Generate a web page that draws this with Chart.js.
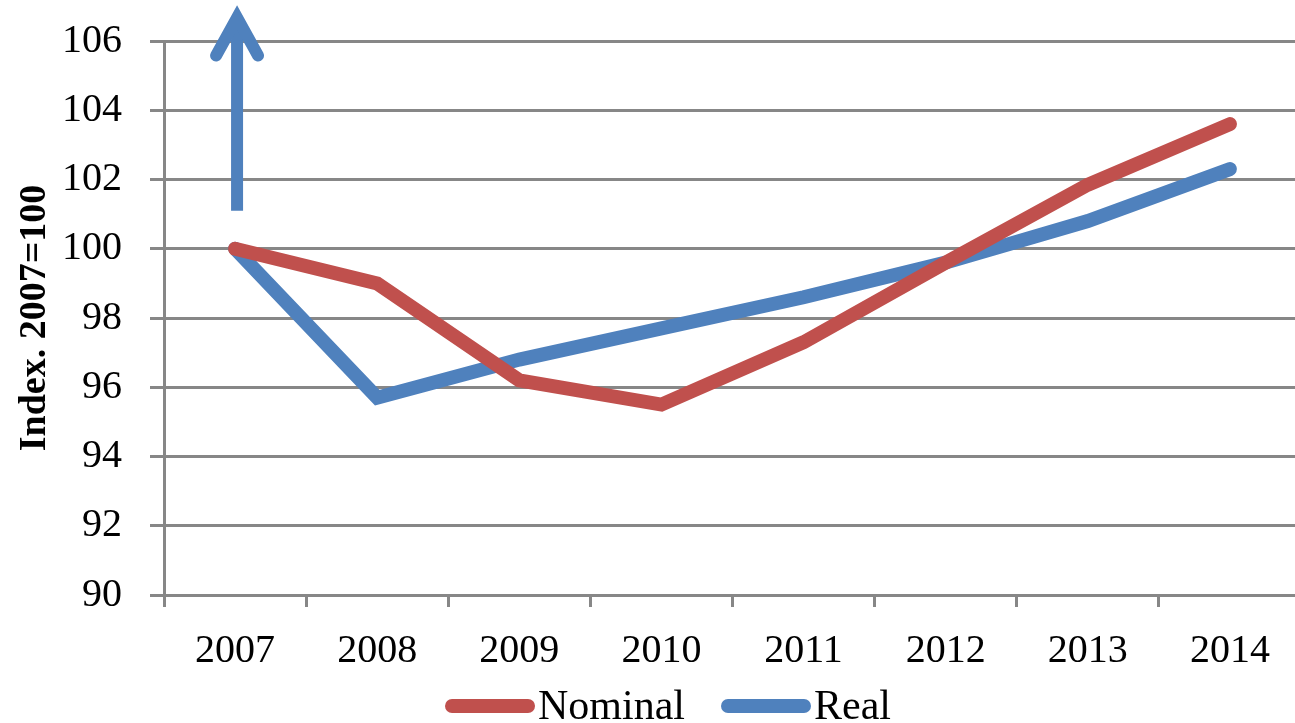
<!DOCTYPE html>
<html>
<head>
<meta charset="utf-8">
<title>Nominal and real index</title>
<script src="https://cdn.jsdelivr.net/npm/chart.js@4.4.1/dist/chart.umd.min.js"></script>
<style>
  html, body { margin: 0; padding: 0; background: #fff; overflow: hidden; }
  #wrap { width: 1310px; height: 723px; position: relative; }
</style>
</head>
<body>
<div id="wrap"><canvas id="indexChart"></canvas></div>
<script>
const years = ['2007', '2008', '2009', '2010', '2011', '2012', '2013', '2014'];
const nominal = [100, 99.0, 96.2, 95.5, 97.3, 99.6, 101.85, 103.6];
const real = [100, 95.7, 96.8, 97.7, 98.6, 99.6, 100.8, 102.3];
const yTicks = [90, 92, 94, 96, 98, 100, 102, 104, 106];
// upward arrow above the 2007 point: [category index, from value, to value]
const arrow = [0, 101.1, 106.85];

const RED = '#C0504D';
const BLUE = '#4F81BD';
const GRID = '#878787';
const FONT = "'Liberation Serif', 'Times New Roman', serif";

const arrowPlugin = {
    id: 'upArrow',
    afterDatasetsDraw(chart) {
        const { ctx, scales } = chart;
        const x = scales.x.getPixelForValue(arrow[0]) + 2;
        const y0 = scales.y.getPixelForValue(arrow[1]);
        const y1 = scales.y.getPixelForValue(arrow[2]);
        ctx.save();
        ctx.strokeStyle = BLUE;
        ctx.lineWidth = 12;
        ctx.lineCap = 'butt';
        ctx.beginPath();
        ctx.moveTo(x, y0);
        ctx.lineTo(x, y1 + 6);
        ctx.stroke();
        ctx.lineCap = 'round';
        ctx.lineJoin = 'miter';
        ctx.beginPath();
        ctx.moveTo(x - 21, y1 + 44);
        ctx.lineTo(x, y1 + 6);
        ctx.lineTo(x + 21, y1 + 44);
        ctx.stroke();
        ctx.restore();
    }
};

// legend: thick rounded line sample followed by the series name
const legendPlugin = {
    id: 'lineLegend',
    afterDraw(chart) {
        const { ctx } = chart;
        const sample = 90, gap = 3, spacing = 36, cy = 706;
        ctx.save();
        ctx.font = "42px " + FONT;
        ctx.textBaseline = 'middle';
        const items = chart.data.datasets.map(d => ({ label: d.label, color: d.borderColor, w: ctx.measureText(d.label).width }));
        const total = items.reduce((s, it) => s + sample + gap + it.w, 0) + spacing * (items.length - 1);
        let x = 668 - total / 2;
        items.forEach(it => {
            ctx.strokeStyle = it.color;
            ctx.lineWidth = 14;
            ctx.lineCap = 'round';
            ctx.beginPath();
            ctx.moveTo(x + 7, cy);
            ctx.lineTo(x + sample - 7, cy);
            ctx.stroke();
            ctx.fillStyle = '#000';
            ctx.fillText(it.label, x + sample + gap, cy + 2);
            x += sample + gap + it.w + spacing;
        });
        ctx.restore();
    }
};

const lineStyle = {
    borderWidth: 14,
    borderCapStyle: 'round',
    borderJoinStyle: 'miter',
    pointRadius: 0,
    pointHoverRadius: 0,
    tension: 0,
    fill: false,
};

new Chart(document.getElementById('indexChart').getContext('2d'), {
    type: 'line',
    data: {
        labels: years,
        datasets: [
            { label: 'Nominal', data: nominal, borderColor: RED, backgroundColor: RED, ...lineStyle },
            { label: 'Real', data: real, borderColor: BLUE, backgroundColor: BLUE, ...lineStyle },
        ],
    },
    options: {
        responsive: true,
        maintainAspectRatio: false,
        animation: false,
        layout: { padding: { left: 12, right: 9, top: 41, bottom: 54 } },
        plugins: {
            legend: { display: false },
            tooltip: { enabled: false },
        },
        scales: {
            x: {
                offset: true,
                afterFit: axis => { axis.height = 74; },
                grid: { offset: true, drawOnChartArea: false, color: GRID, lineWidth: 3, tickLength: 12 },
                border: { color: GRID, width: 3 },
                ticks: { color: '#000', padding: 20, font: { family: FONT, size: 40 }, maxRotation: 0 },
            },
            y: {
                min: 90,
                max: 106,
                afterBuildTicks: axis => { axis.ticks = yTicks.map(v => ({ value: v })); },
                afterFit: axis => {
                    axis.width = 152;
                    axis.paddingTop = 0;
                    axis.paddingBottom = 0;
                },
                grid: { color: GRID, lineWidth: 3, tickLength: 14 },
                border: { color: GRID, width: 3 },
                ticks: { color: '#000', padding: 28, font: { family: FONT, size: 40 } },
                title: {
                    display: true,
                    text: 'Index. 2007=100',
                    color: '#000',
                    padding: { top: 0, bottom: 12 },
                    font: { family: FONT, size: 38, weight: 'bold' },
                },
            },
        },
    },
    plugins: [arrowPlugin, legendPlugin],
});
</script>
</body>
</html>
